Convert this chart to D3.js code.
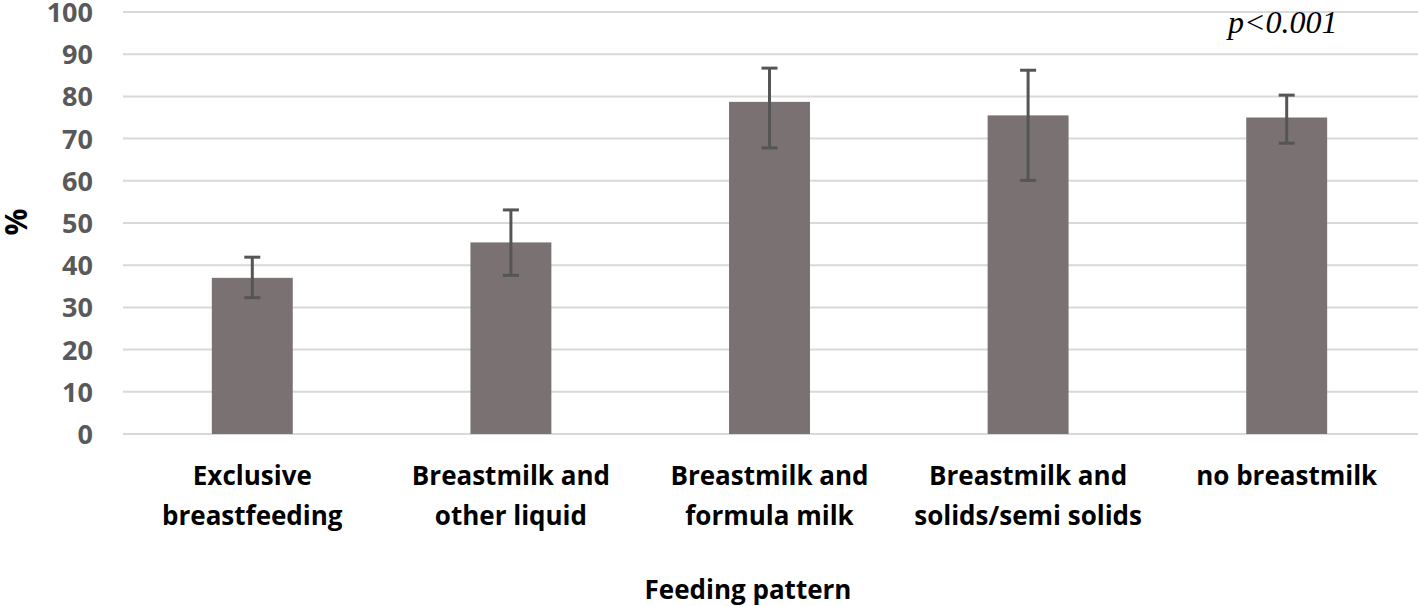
<!DOCTYPE html>
<html><head><meta charset="utf-8">
<script src="https://cdn.jsdelivr.net/npm/d3@7"></script>
<style>body{margin:0;background:#fff}svg{display:block}</style>
</head><body><svg id="c" width="1418" height="606"></svg>
<script>
const categories = [["Exclusive","breastfeeding"],["Breastmilk and","other liquid"],["Breastmilk and","formula milk"],["Breastmilk and","solids/semi solids"],["no breastmilk"]];
const values = [37.0, 45.4, 78.7, 75.5, 75.0];
const errLow = [32.3, 37.6, 67.8, 60.1, 68.9];
const errHigh = [41.9, 53.1, 86.7, 86.2, 80.3];
const yTicks = [0,10,20,30,40,50,60,70,80,90,100];

const svg = d3.select("#c");
const m = {l:123, r:2, t:12, b:172};
const W = 1418, H = 606;
const x = d3.scaleBand().domain(d3.range(categories.length)).range([m.l, W - m.r]).paddingInner(0.687).paddingOuter(0.3435);
const y = d3.scaleLinear().domain([0,100]).range([H - m.b, m.t]);

// gridlines
svg.append("g").selectAll("line").data(yTicks).join("line")
  .attr("x1", m.l).attr("x2", W).attr("y1", d=>y(d)).attr("y2", d=>y(d))
  .attr("stroke", "#d9d9d9").attr("stroke-width", 2);

// y axis labels
const yAxis = d3.axisLeft(y).tickValues(yTicks).tickSize(0).tickPadding(0);
const ga = svg.append("g").attr("transform", `translate(${m.l-30},0)`).call(yAxis);
ga.select(".domain").remove();
ga.selectAll("text").attr("font-family","Open Sans, sans-serif").attr("font-weight","bold")
  .attr("font-size", 27).attr("fill","#595959").attr("dy","0.35em");

// bars
svg.append("g").selectAll("rect").data(values).join("rect")
  .attr("x",(d,i)=>x(i)).attr("width",x.bandwidth())
  .attr("y",d=>y(d)).attr("height",d=>y(0)-y(d)).attr("fill","#7a7272");

// error bars
const eg = svg.append("g").attr("stroke","#555").attr("stroke-width",3);
values.forEach((v,i)=>{
  const cx = x(i)+x.bandwidth()/2;
  eg.append("line").attr("x1",cx).attr("x2",cx).attr("y1",y(errLow[i])).attr("y2",y(errHigh[i]));
  [errLow[i], errHigh[i]].forEach(e=>{
    eg.append("line").attr("x1",cx-8).attr("x2",cx+8).attr("y1",y(e)).attr("y2",y(e));
  });
});

// category labels
const xl = svg.append("g");
categories.forEach((lines,i)=>{
  const cx = x(i)+x.bandwidth()/2;
  const t = xl.append("text").attr("x",cx).attr("y",485).attr("text-anchor","middle")
    .attr("font-family","Open Sans, sans-serif").attr("font-weight","bold").attr("font-size",26).attr("fill","#000");
  lines.forEach((ln,j)=>t.append("tspan").attr("x",cx).attr("dy",j===0?0:40).text(ln));
});

// axis titles
svg.append("text").attr("x",748).attr("y",599).attr("text-anchor","middle")
  .attr("font-family","Open Sans, sans-serif").attr("font-weight","bold").attr("font-size",26).text("Feeding pattern");
svg.append("text").attr("transform","translate(27,222) rotate(-90)").attr("text-anchor","middle")
  .attr("font-family","Open Sans, sans-serif").attr("font-weight","bold").attr("font-size",30).text("%");

svg.append("text").attr("x",1228).attr("y",33).attr("font-family","Liberation Serif, serif")
  .attr("font-style","italic").attr("font-size",32).text("p<0.001");
</script></body></html>
